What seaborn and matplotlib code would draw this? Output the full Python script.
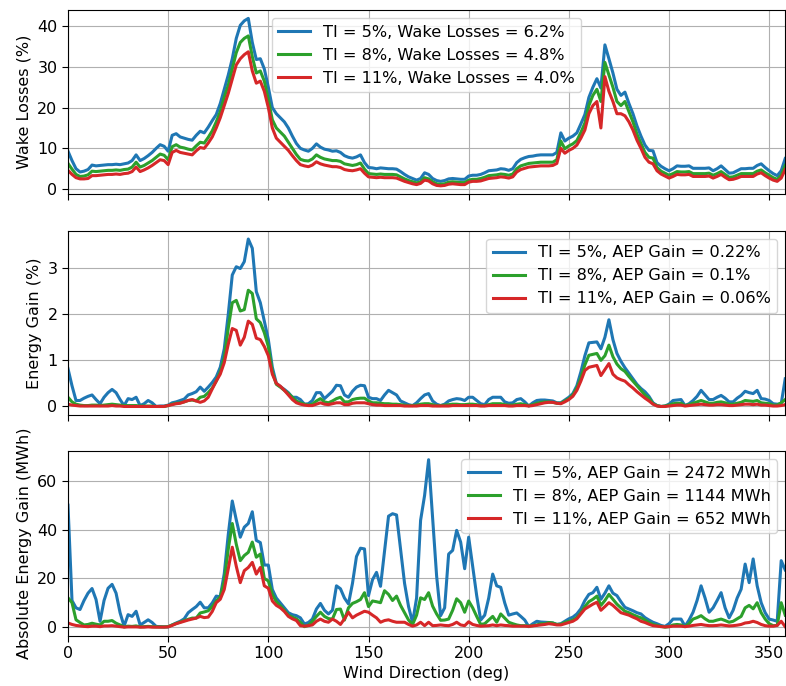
import numpy as np
import pandas as pd
import matplotlib
matplotlib.use("Agg")
import matplotlib.pyplot as plt
import seaborn as sns

wind_direction = np.arange(0, 360, 2)
ti_levels = ["5%", "8%", "11%"]
colors = ["#1f77b4", "#2ca02c", "#d62728"]
wake_loss_totals = ["6.2%", "4.8%", "4.0%"]
aep_gain_pct = ["0.22%", "0.1%", "0.06%"]
aep_gain_mwh = ["2472 MWh", "1144 MWh", "652 MWh"]

wake_loss_ti5 = [
    9.3, 7.0, 5.0, 4.2, 4.4, 4.8, 5.9, 5.7, 5.8, 5.9,
    6.0, 6.0, 6.1, 6.0, 6.2, 6.4, 7.0, 8.4, 7.0, 7.5,
    8.2, 9.0, 10.0, 10.9, 10.5, 9.3, 13.2, 13.6, 12.8, 12.5,
    12.2, 12.0, 13.2, 14.2, 13.8, 15.2, 16.8, 18.3, 21.0, 24.5,
    28.0, 32.0, 37.0, 40.2, 41.3, 41.9, 36.0, 31.8, 32.0, 29.5,
    25.0, 20.0, 18.5, 17.5, 16.5, 15.0, 13.0, 11.2, 10.0, 9.6,
    9.3, 10.0, 11.1, 10.3, 9.8, 9.6, 9.3, 9.4, 9.0, 8.2,
    7.8, 7.6, 7.9, 8.4, 6.5, 5.3, 5.2, 5.0, 5.2, 5.1,
    5.0, 5.0, 4.9, 4.3, 3.6, 3.0, 2.6, 2.2, 2.6, 4.0,
    3.6, 2.6, 2.1, 1.9, 2.1, 2.5, 2.6, 2.5, 2.4, 2.4,
    3.2, 3.4, 3.4, 3.6, 4.0, 4.5, 4.6, 4.7, 5.0, 4.9,
    4.6, 5.0, 6.5, 7.3, 7.7, 8.0, 8.1, 8.3, 8.4, 8.4,
    8.4, 8.4, 9.0, 13.8, 11.8, 12.5, 13.0, 13.8, 16.0, 18.3,
    22.5, 25.0, 27.1, 24.8, 35.4, 32.0, 28.5, 24.5, 23.0, 23.8,
    21.0, 18.5, 15.5, 13.0, 10.8, 9.5, 9.4, 6.5, 5.6, 5.0,
    4.5, 5.0, 5.7, 5.6, 5.6, 5.7, 5.1, 5.1, 5.1, 5.1,
    5.2, 4.5, 5.0, 5.7, 4.8, 3.9, 4.0, 4.5, 5.0, 5.0,
    5.1, 5.1, 5.8, 6.2, 5.3, 4.5, 3.8, 3.3, 4.5, 7.5,
]
wake_loss_ti8 = [
    6.3, 4.9, 3.6, 3.1, 3.2, 3.5, 4.4, 4.3, 4.4, 4.5,
    4.6, 4.6, 4.7, 4.6, 4.8, 4.9, 5.4, 6.6, 5.4, 5.8,
    6.4, 7.0, 7.8, 8.6, 8.3, 7.2, 10.4, 10.9, 10.3, 10.1,
    9.8, 9.6, 10.6, 11.5, 11.3, 12.7, 14.3, 16.5, 19.0, 22.5,
    25.5, 29.5, 33.5, 36.0, 37.0, 37.6, 32.5, 28.5, 29.0, 26.5,
    22.0, 17.0, 15.0, 14.0, 13.0, 11.5, 10.0, 8.5, 7.3, 7.0,
    6.9, 7.4, 8.4, 7.8, 7.4, 7.2, 7.0, 7.0, 6.8, 6.2,
    6.0, 5.8, 6.0, 6.4, 4.9, 3.8, 3.7, 3.6, 3.7, 3.6,
    3.6, 3.6, 3.5, 3.0, 2.5, 2.1, 1.8, 1.5, 1.8, 2.8,
    2.5, 1.8, 1.3, 1.2, 1.3, 1.7, 1.8, 1.7, 1.6, 1.6,
    2.2, 2.4, 2.4, 2.6, 2.9, 3.3, 3.4, 3.5, 3.7, 3.6,
    3.4, 3.7, 5.0, 5.7, 6.0, 6.3, 6.4, 6.5, 6.6, 6.6,
    6.6, 6.6, 7.2, 11.8, 9.9, 10.6, 11.1, 11.9, 13.9, 16.2,
    20.5, 23.0, 24.5, 21.5, 31.1, 28.0, 25.0, 21.5, 20.5, 21.5,
    19.0, 16.5, 13.5, 11.2, 9.0, 7.8, 7.6, 5.3, 4.4, 3.9,
    3.4, 3.8, 4.3, 4.2, 4.2, 4.3, 3.8, 3.8, 3.8, 3.8,
    3.9, 3.4, 3.8, 4.3, 3.6, 2.9, 3.0, 3.4, 3.8, 3.8,
    3.8, 3.8, 4.4, 4.7, 4.0, 3.4, 2.8, 2.4, 3.4, 5.8,
]
wake_loss_ti11 = [
    4.6, 3.6, 2.8, 2.5, 2.5, 2.6, 3.3, 3.3, 3.4, 3.5,
    3.6, 3.6, 3.7, 3.6, 3.8, 3.9, 4.3, 5.4, 4.3, 4.7,
    5.2, 5.8, 6.5, 7.2, 7.0, 6.0, 9.0, 9.5, 9.0, 8.8,
    8.6, 8.4, 9.4, 10.2, 10.0, 11.3, 12.8, 15.0, 17.5, 20.5,
    23.5, 27.0, 30.5, 32.0, 33.0, 33.7, 29.0, 26.0, 26.5, 24.0,
    20.0, 15.0, 12.5, 11.5, 10.5, 9.5, 8.2, 7.0, 6.0, 5.7,
    5.5, 5.9, 6.7, 6.2, 5.9, 5.7, 5.5, 5.5, 5.3, 4.8,
    4.6, 4.5, 4.7, 5.0, 3.9, 3.0, 2.9, 2.8, 2.9, 2.8,
    2.8, 2.8, 2.7, 2.3, 1.9, 1.6, 1.3, 1.1, 1.4, 2.2,
    2.0, 1.3, 0.9, 0.8, 0.9, 1.2, 1.3, 1.2, 1.1, 1.1,
    1.7, 1.9, 1.9, 2.0, 2.3, 2.6, 2.7, 2.8, 3.0, 2.9,
    2.7, 3.0, 4.2, 4.8, 5.1, 5.4, 5.5, 5.6, 5.7, 5.7,
    5.7, 5.8, 6.3, 10.0, 8.8, 9.5, 10.0, 10.8, 12.5, 14.5,
    18.5, 20.5, 21.5, 15.0, 27.6, 24.0, 21.5, 18.5, 18.5, 18.0,
    16.5, 14.5, 12.0, 10.0, 7.8, 6.6, 6.2, 4.5, 3.7, 3.2,
    2.7, 3.1, 3.6, 3.5, 3.5, 3.6, 3.1, 3.1, 3.1, 3.1,
    3.2, 2.7, 3.1, 3.6, 2.9, 2.3, 2.4, 2.7, 3.1, 3.1,
    3.1, 3.1, 3.7, 4.0, 3.3, 2.7, 2.2, 1.9, 2.7, 4.8,
]

energy_gain_ti5 = [
    0.82, 0.45, 0.13, 0.13, 0.18, 0.22, 0.25, 0.15, 0.06, 0.2,
    0.3, 0.37, 0.3, 0.15, 0.02, 0.17, 0.15, 0.2, 0.02, 0.06,
    0.13, 0.08, 0.0, 0.01, 0.01, 0.03, 0.08, 0.1, 0.13, 0.16,
    0.25, 0.28, 0.32, 0.42, 0.33, 0.42, 0.52, 0.64, 0.85, 1.25,
    2.0, 2.85, 3.03, 2.99, 3.14, 3.63, 3.43, 2.49, 2.25, 1.85,
    1.45, 0.85, 0.5, 0.43, 0.37, 0.3, 0.2, 0.2, 0.15, 0.05,
    0.06, 0.13, 0.3, 0.3, 0.17, 0.25, 0.33, 0.46, 0.45, 0.25,
    0.2, 0.33, 0.42, 0.46, 0.45, 0.2, 0.17, 0.17, 0.13, 0.25,
    0.35, 0.3, 0.25, 0.12, 0.08, 0.04, 0.02, 0.08, 0.17, 0.25,
    0.28, 0.12, 0.05, 0.02, 0.05, 0.12, 0.15, 0.17, 0.16, 0.13,
    0.2, 0.2, 0.13, 0.06, 0.04, 0.15, 0.2, 0.2, 0.2, 0.1,
    0.07, 0.08, 0.15, 0.17, 0.1, 0.01, 0.08, 0.13, 0.14, 0.14,
    0.13, 0.12, 0.08, 0.08, 0.14, 0.2, 0.28, 0.45, 0.75, 1.1,
    1.38, 1.39, 1.4, 1.25, 1.5, 1.88, 1.45, 1.15, 0.98, 0.84,
    0.72, 0.6, 0.48, 0.39, 0.32, 0.22, 0.08, 0.02, 0.0, 0.01,
    0.05, 0.13, 0.14, 0.15, 0.02, 0.06, 0.13, 0.22, 0.35, 0.25,
    0.15, 0.15, 0.2, 0.24, 0.18, 0.1, 0.1, 0.18, 0.24, 0.33,
    0.3, 0.28, 0.35, 0.17, 0.16, 0.13, 0.06, 0.05, 0.06, 0.6,
]
energy_gain_ti8 = [
    0.2, 0.1, 0.05, 0.03, 0.02, 0.02, 0.03, 0.03, 0.02, 0.03,
    0.04, 0.05, 0.04, 0.03, 0.02, 0.02, 0.02, 0.02, 0.01, 0.01,
    0.01, 0.01, 0.0, 0.0, 0.0, 0.02, 0.05, 0.07, 0.08, 0.1,
    0.13, 0.14, 0.12, 0.2, 0.22, 0.3, 0.4, 0.55, 0.75, 1.05,
    1.7, 2.25, 2.3, 2.07, 2.1, 2.52, 2.45, 1.9, 1.82, 1.6,
    1.3, 0.75, 0.48, 0.42, 0.35, 0.28, 0.2, 0.12, 0.08, 0.05,
    0.03, 0.05, 0.12, 0.17, 0.1, 0.08, 0.12, 0.17, 0.2, 0.1,
    0.1, 0.15, 0.17, 0.18, 0.18, 0.12, 0.08, 0.08, 0.07, 0.06,
    0.06, 0.05, 0.05, 0.04, 0.03, 0.02, 0.02, 0.03, 0.05, 0.06,
    0.06, 0.04, 0.02, 0.02, 0.03, 0.04, 0.05, 0.05, 0.04, 0.04,
    0.05, 0.05, 0.04, 0.02, 0.02, 0.04, 0.06, 0.06, 0.06, 0.04,
    0.03, 0.03, 0.05, 0.06, 0.04, 0.02, 0.04, 0.07, 0.09, 0.1,
    0.1, 0.09, 0.07, 0.07, 0.12, 0.17, 0.25, 0.4, 0.62, 0.9,
    1.11, 1.13, 1.15, 1.0, 1.1, 1.33, 1.08, 0.92, 0.82, 0.76,
    0.65, 0.55, 0.45, 0.35, 0.25, 0.18, 0.06, 0.02, 0.0, 0.01,
    0.03, 0.06, 0.07, 0.07, 0.02, 0.04, 0.07, 0.1, 0.13, 0.1,
    0.07, 0.07, 0.09, 0.1, 0.08, 0.05, 0.05, 0.07, 0.09, 0.13,
    0.12, 0.11, 0.13, 0.08, 0.07, 0.06, 0.03, 0.03, 0.08, 0.15,
]
energy_gain_ti11 = [
    0.05, 0.03, 0.02, 0.01, 0.01, 0.01, 0.01, 0.01, 0.01, 0.01,
    0.01, 0.02, 0.01, 0.01, 0.0, 0.0, 0.0, 0.0, 0.0, 0.0,
    0.0, 0.0, 0.0, 0.0, 0.0, 0.02, 0.04, 0.06, 0.07, 0.1,
    0.13, 0.15, 0.12, 0.09, 0.12, 0.2, 0.38, 0.55, 0.7, 0.95,
    1.35, 1.69, 1.65, 1.33, 1.5, 1.85, 1.78, 1.48, 1.45, 1.3,
    1.1, 0.7, 0.5, 0.44, 0.35, 0.25, 0.15, 0.08, 0.05, 0.03,
    0.02, 0.02, 0.05, 0.08, 0.05, 0.04, 0.06, 0.08, 0.08, 0.04,
    0.04, 0.07, 0.08, 0.08, 0.08, 0.06, 0.04, 0.03, 0.03, 0.02,
    0.02, 0.02, 0.02, 0.02, 0.01, 0.01, 0.01, 0.01, 0.02, 0.02,
    0.02, 0.01, 0.01, 0.01, 0.01, 0.01, 0.02, 0.02, 0.02, 0.02,
    0.02, 0.02, 0.02, 0.01, 0.01, 0.02, 0.02, 0.02, 0.02, 0.02,
    0.01, 0.01, 0.02, 0.02, 0.02, 0.01, 0.02, 0.04, 0.06, 0.08,
    0.09, 0.09, 0.07, 0.06, 0.1, 0.15, 0.22, 0.35, 0.55, 0.78,
    0.85, 0.87, 0.89, 0.67, 0.8, 0.93, 0.7, 0.62, 0.58, 0.55,
    0.47, 0.4, 0.32, 0.25, 0.18, 0.12, 0.05, 0.01, 0.0, 0.0,
    0.01, 0.02, 0.03, 0.03, 0.01, 0.02, 0.03, 0.04, 0.05, 0.04,
    0.03, 0.03, 0.04, 0.04, 0.03, 0.02, 0.02, 0.03, 0.04, 0.05,
    0.05, 0.04, 0.05, 0.03, 0.03, 0.02, 0.01, 0.01, 0.02, 0.04,
]

abs_gain_ti5 = [
    50.0, 11.0, 8.0, 7.3, 11.0, 14.0, 15.9, 11.4, 2.5, 11.0,
    16.0, 17.6, 14.0, 6.0, 0.5, 5.2, 4.5, 6.6, 1.0, 2.0,
    3.1, 2.0, 0.4, 0.3, 0.2, 0.2, 1.0, 1.8, 2.5, 3.5,
    6.0, 7.3, 8.5, 10.3, 8.0, 8.0, 10.0, 12.8, 12.5, 22.0,
    38.0, 51.7, 44.0, 36.9, 41.0, 42.5, 47.3, 35.6, 34.7, 25.5,
    25.5, 15.5, 12.0, 10.0, 8.0, 6.0, 5.2, 4.8, 3.9, 1.4,
    2.0, 3.4, 7.5, 9.8, 7.0, 5.5, 7.0, 17.0, 15.8, 12.0,
    9.6, 18.0, 29.0, 32.4, 32.1, 13.0, 19.5, 22.5, 16.8, 31.0,
    45.5, 46.5, 46.0, 32.0, 18.0, 8.5, 2.0, 12.0, 43.8, 54.0,
    68.6, 45.0, 21.0, 4.8, 8.0, 30.0, 31.5, 39.7, 34.9, 24.0,
    36.9, 25.0, 13.0, 3.0, 5.0, 12.0, 21.8, 17.0, 16.4, 10.0,
    5.0, 5.5, 5.9, 4.5, 3.0, 0.3, 1.5, 2.5, 2.2, 2.1,
    2.0, 1.8, 1.2, 1.5, 2.5, 3.5, 4.2, 5.5, 7.6, 11.0,
    13.5, 14.2, 16.4, 11.5, 14.0, 17.0, 14.0, 13.0, 10.5, 8.2,
    7.5, 6.8, 6.0, 5.5, 4.0, 3.0, 2.1, 1.5, 0.8, 0.4,
    1.5, 3.4, 3.4, 3.4, 0.5, 3.0, 6.2, 11.0, 17.0, 12.0,
    6.2, 8.0, 11.0, 14.2, 8.0, 3.9, 7.0, 12.0, 15.6, 25.9,
    18.3, 28.0, 17.0, 10.1, 6.0, 3.4, 3.0, 2.5, 27.3, 23.5,
]
abs_gain_ti8 = [
    12.1, 10.1, 3.1, 2.0, 1.0, 1.2, 1.7, 1.3, 1.0, 2.5,
    2.5, 2.8, 1.7, 1.0, 0.2, 0.5, 0.4, 0.6, 0.2, 0.3,
    0.4, 0.3, 0.2, 0.2, 0.2, 0.3, 1.0, 1.6, 2.2, 2.8,
    3.3, 3.8, 3.8, 5.9, 6.3, 6.8, 8.5, 10.8, 12.5, 19.0,
    32.0, 42.5, 34.0, 27.3, 29.4, 30.7, 34.9, 28.7, 30.0, 20.0,
    19.0, 13.5, 10.5, 8.8, 7.0, 5.0, 4.2, 3.5, 2.1, 0.3,
    0.8, 2.5, 4.5, 6.2, 4.5, 3.6, 3.4, 7.3, 7.5, 3.0,
    8.0, 9.8, 10.5, 11.4, 14.2, 8.5, 10.8, 10.5, 10.1, 15.0,
    13.5, 11.0, 12.8, 9.0, 6.0, 3.0, 1.2, 5.0, 12.1, 11.4,
    14.2, 8.7, 5.5, 2.9, 3.0, 3.4, 7.0, 11.7, 10.1, 6.2,
    10.8, 8.0, 4.5, 1.2, 1.5, 3.0, 4.5, 2.1, 5.5, 3.8,
    2.1, 1.5, 1.0, 0.7, 0.7, 0.5, 0.7, 1.0, 1.5, 1.5,
    2.0, 1.8, 1.2, 1.3, 2.0, 2.5, 3.0, 4.0, 6.0, 8.5,
    10.5, 11.5, 12.8, 9.0, 11.0, 13.5, 11.5, 9.5, 8.0, 6.6,
    6.0, 5.2, 4.5, 3.9, 3.0, 2.0, 1.2, 0.8, 0.4, 0.1,
    0.3, 1.0, 1.2, 1.0, 0.3, 1.5, 3.4, 4.0, 4.8, 3.5,
    2.5, 2.5, 3.0, 3.4, 2.8, 2.1, 2.5, 3.5, 4.5, 8.0,
    9.0, 7.6, 10.1, 6.0, 3.4, 1.5, 0.7, 0.8, 10.1, 5.0,
]
abs_gain_ti11 = [
    1.8, 1.2, 0.8, 0.6, 0.4, 0.3, 0.5, 0.5, 0.3, 0.6,
    0.6, 0.7, 0.5, 0.3, 0.1, 0.2, 0.2, 0.2, 0.1, 0.1,
    0.2, 0.1, 0.1, 0.1, 0.1, 0.2, 0.8, 1.5, 2.0, 2.5,
    3.0, 3.4, 3.8, 4.5, 4.0, 4.2, 6.5, 10.1, 11.5, 15.5,
    24.0, 32.8, 25.0, 18.3, 23.2, 24.5, 26.6, 21.8, 24.5, 17.0,
    16.0, 10.8, 9.0, 8.0, 6.5, 4.5, 3.5, 2.8, 0.7, 0.5,
    0.7, 1.0, 2.5, 3.4, 2.5, 2.1, 3.4, 2.5, 1.2, 3.5,
    6.2, 3.9, 5.0, 5.8, 6.6, 6.2, 5.0, 3.9, 2.1, 2.8,
    3.1, 2.5, 2.1, 2.1, 2.1, 1.2, 0.5, 1.0, 2.1, 0.7,
    2.1, 0.7, 0.8, 1.0, 0.8, 0.7, 1.2, 2.1, 1.0, 0.7,
    2.3, 1.2, 0.8, 0.5, 0.6, 0.7, 1.0, 0.7, 1.0, 0.8,
    0.7, 0.5, 0.5, 0.5, 0.5, 0.4, 0.6, 0.8, 1.0, 1.2,
    1.5, 1.3, 1.0, 1.0, 1.5, 2.0, 2.5, 3.5, 5.5, 7.5,
    8.5, 9.5, 10.3, 7.0, 8.5, 10.1, 9.0, 7.5, 6.0, 5.5,
    5.0, 4.2, 3.5, 2.5, 2.0, 1.3, 0.7, 0.5, 0.3, 0.2,
    0.3, 0.5, 0.5, 0.5, 0.3, 0.5, 0.8, 1.0, 1.2, 0.9,
    0.7, 0.7, 0.8, 1.0, 0.8, 0.6, 0.7, 0.9, 1.2, 1.8,
    2.0, 2.5, 2.0, 1.2, 0.7, 0.5, 0.5, 0.8, 2.5, 0.3,
]

panels = [
    ([wake_loss_ti5, wake_loss_ti8, wake_loss_ti11],
     [f"TI = {t}, Wake Losses = {v}" for t, v in zip(ti_levels, wake_loss_totals)],
     "Wake Losses (%)", "upper center"),
    ([energy_gain_ti5, energy_gain_ti8, energy_gain_ti11],
     [f"TI = {t}, AEP Gain = {v}" for t, v in zip(ti_levels, aep_gain_pct)],
     "Energy Gain (%)", "upper right"),
    ([abs_gain_ti5, abs_gain_ti8, abs_gain_ti11],
     [f"TI = {t}, AEP Gain = {v}" for t, v in zip(ti_levels, aep_gain_mwh)],
     "Absolute Energy Gain (MWh)", "upper right"),
]

plt.rcParams.update({
    "font.size": 11.5,
    "legend.fontsize": 11.6,
    "xtick.major.size": 4,
    "ytick.major.size": 4,
})

fig, axes = plt.subplots(3, 1, figsize=(7.86, 6.86), dpi=100, sharex=True)
fig.subplots_adjust(left=0.0865, right=0.999, top=0.9854, bottom=0.0736, hspace=0.198)

for ax, (series, labels, ylabel, loc) in zip(axes, panels):
    for vals, lab, col in zip(series, labels, colors):
        df = pd.DataFrame({"direction": wind_direction, "value": vals})
        sns.lineplot(data=df, x="direction", y="value", color=col, linewidth=2.2,
                     label=lab, ax=ax)
    ax.grid(True)
    ax.set_ylabel(ylabel)
    ax.set_xlabel("")
    ax.legend(loc=loc)

axes[0].set_yticks([0, 10, 20, 30, 40])
axes[1].set_yticks([0, 1, 2, 3])
axes[2].set_yticks([0, 20, 40, 60])
axes[2].set_xlim(0, 358)
axes[2].set_xticks(np.arange(0, 351, 50))
axes[2].set_xlabel("Wind Direction (deg)")

fig.savefig("out.png", dpi=100)
